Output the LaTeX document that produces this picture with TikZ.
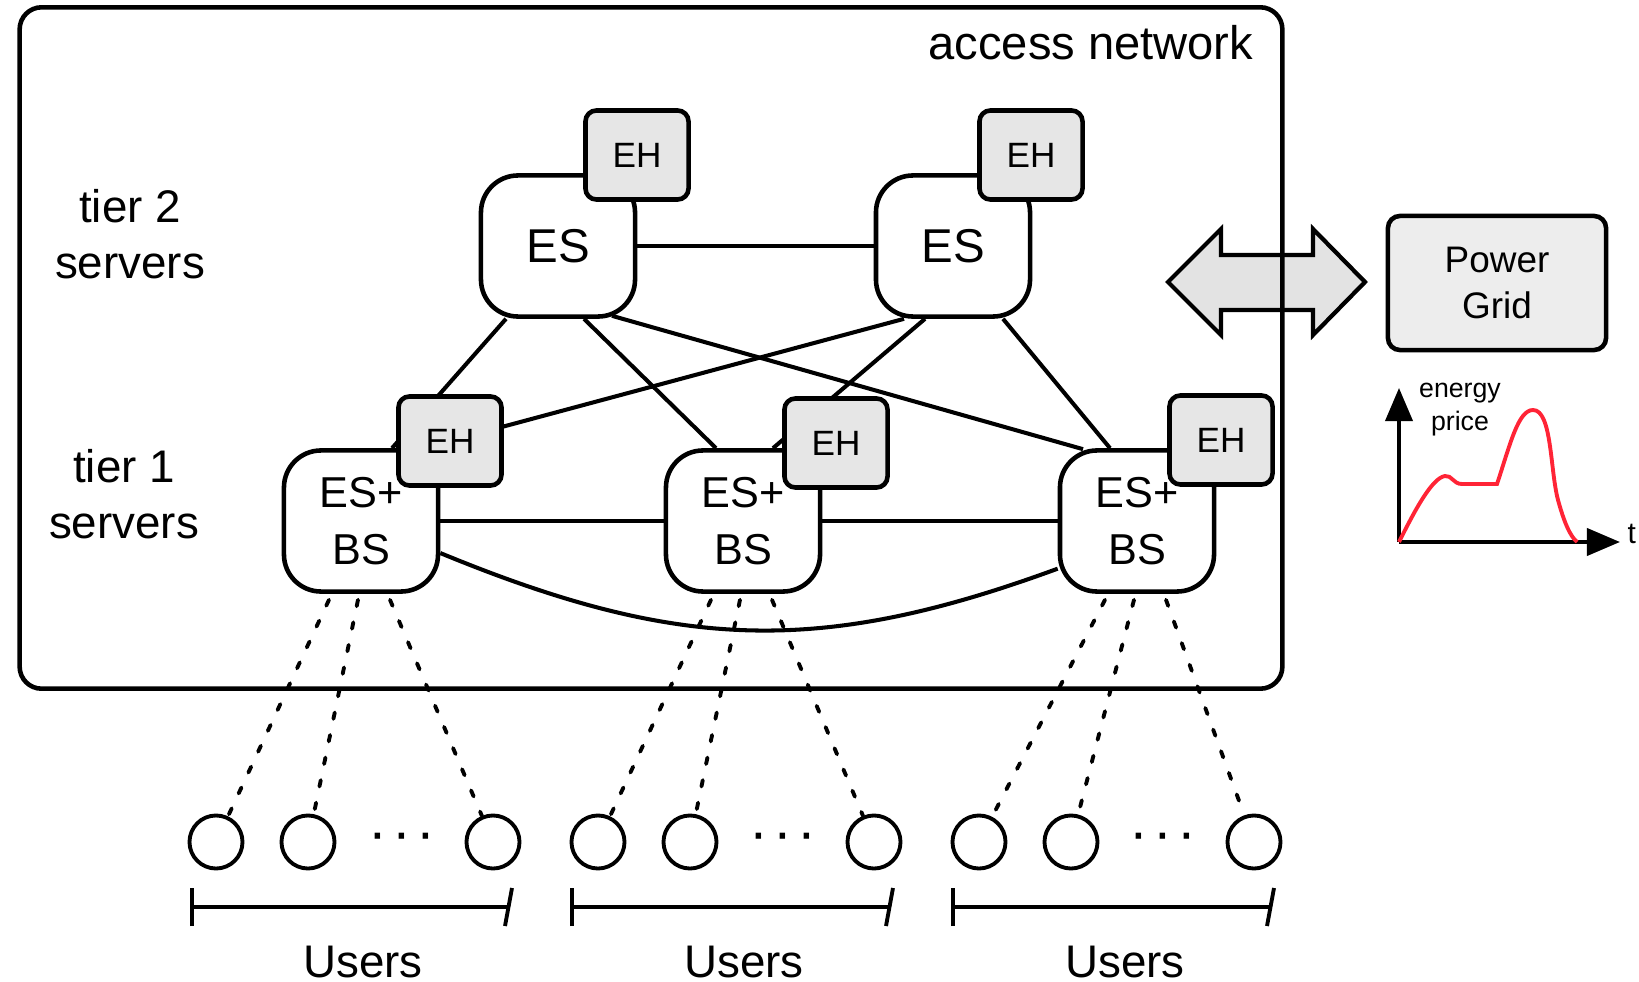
\documentclass[tikz,border=0pt]{standalone}
\usepackage{fontspec}
\setmainfont{Liberation Sans}
\usetikzlibrary{positioning, calc, arrows.meta}

\definecolor{ehgray}{HTML}{E6E6E6}
\definecolor{gridgray}{HTML}{EDEDED}
\definecolor{arrowgray}{HTML}{E3E3E3}
\definecolor{pricered}{HTML}{FF2436}

\begin{document}
\begin{tikzpicture}[
    x=0.01cm, y=-0.01cm,
    server/.style={rectangle, draw, line width=1.3pt, fill=white, rounded corners=0.37cm, minimum width=1.54cm, minimum height=1.41cm, align=center, inner sep=0pt, font=\fontsize{12.3}{16.2}\selectfont},
    harvester/.style={rectangle, draw, line width=1.3pt, fill=ehgray, rounded corners=0.11cm, minimum width=1.03cm, minimum height=0.89cm, font=\fontsize{10}{12}\selectfont},
    link/.style={line width=1.15pt},
    radio/.style={line width=1.1pt, line cap=round, dash pattern=on 0.65mm off 1.65mm},
    user/.style={circle, draw, line width=1.1pt, minimum size=0.53cm, inner sep=0pt},
    userspan/.style={line width=1.1pt, {Bar[width=3.8mm]}-},
    spanend/.style={line width=1.1pt},
    dotstext/.style={font=\fontsize{16}{18}\selectfont},
    priceaxis/.style={->, >={Triangle[length=3.3mm, width=2.7mm]}, line width=1.1pt},
    tiertext/.style={font=\fontsize{13}{15.9}\selectfont, align=center}
]
\useasboundingbox (0,0) rectangle (1639,982);

% Link to the grid
\draw[line width=1.2pt, fill=arrowgray, line join=miter] (1168,282) -- (1221,229) -- (1221,255) -- (1313,255) -- (1313,229) -- (1365,282) -- (1313,335) -- (1313,310) -- (1221,310) -- (1221,335) -- cycle;

% Access network
\node[draw, line width=1.3pt, rounded corners=0.22cm, minimum width=12.62cm, minimum height=6.81cm] (access) at (651,348) {};
\node[font=\fontsize{13.4}{16}\selectfont, anchor=base east, inner sep=0pt] (accesstext) at (1254,60) {access network};

% Tier labels
\node[tiertext] (tier2) at (130,234) {tier 2\\servers};
\node[tiertext] (tier1) at (124,494) {tier 1\\servers};

% Tier 2 servers
\node[server, font=\fontsize{13.5}{16}\selectfont] (esL) at (558,246) {ES};
\node[server, font=\fontsize{13.5}{16}\selectfont] (esR) at (953,246) {ES};

% Tier 1 servers
\node[server] (bsL) at (361,521) {ES+\\BS};
\node[server] (bsM) at (743,521) {ES+\\BS};
\node[server] (bsR) at (1137,521) {ES+\\BS};

% Links
\draw[link] (esL) -- (esR);
\draw[link] ($(esL.south)+(-52,0)$) -- ($(bsL.north)+(31,0)$);
\draw[link] ($(esL.south)+(26,0)$) -- ($(bsM.north)+(-27,0)$);
\draw[link] ($(esL.south)+(54,-3)$) -- ($(bsR.north)+(-54,1)$);
\draw[link] ($(esR.south)+(-49,0)$) -- ($(bsL.north)+(62,0)$);
\draw[link] ($(esR.south)+(-28,0)$) -- ($(bsM.north)+(30,0)$);
\draw[link] ($(esR.south)+(50,0)$) -- ($(bsR.north)+(-27,0)$);
\draw[link] (bsL) -- (bsM);
\draw[link] (bsM) -- (bsR);
\draw[link] (bsL.-22) .. controls (678,651) and (820,656) .. (bsR.211);

% Energy harvesters
\node[harvester] (ehT1) at (637,155) {EH};
\node[harvester] (ehT2) at (1031,155) {EH};
\node[harvester] (ehL) at (450,441) {EH};
\node[harvester] (ehM) at (836,443) {EH};
\node[harvester] (ehR) at (1221,440) {EH};

% Users
\node[user] (u1a) at (216,842) {};
\node[user] (u1b) at (308,842) {};
\node[dotstext] (dots1) at (402,842) {·\kern1.5pt·\kern1.5pt·};
\node[user] (u1c) at (493,842) {};
\node[user] (u2a) at (598,842) {};
\node[user] (u2b) at (690,842) {};
\node[dotstext] (dots2) at (783,842) {·\kern1.5pt·\kern1.5pt·};
\node[user] (u2c) at (874,842) {};
\node[user] (u3a) at (979,842) {};
\node[user] (u3b) at (1071,842) {};
\node[dotstext] (dots3) at (1163,842) {·\kern1.5pt·\kern1.5pt·};
\node[user] (u3c) at (1254,842) {};

% Radio links
\draw[radio] ($(bsL.south)+(-32,6)$) -- (u1a);
\draw[radio] ($(bsL.south)+(-3,6)$) -- (u1b);
\draw[radio] ($(bsL.south)+(29,6)$) -- (u1c);
\draw[radio] ($(bsM.south)+(-32,6)$) -- (u2a);
\draw[radio] ($(bsM.south)+(-3,6)$) -- (u2b);
\draw[radio] ($(bsM.south)+(29,6)$) -- (u2c);
\draw[radio] ($(bsR.south)+(-32,6)$) -- (u3a);
\draw[radio] ($(bsR.south)+(-3,6)$) -- (u3b);
\draw[radio] ($(bsR.south)+(29,6)$) -- (u3c);

% User groups
\coordinate (s1l) at (190,907);
\coordinate (s1r) at (508,907);
\coordinate (s2l) at (570,907);
\coordinate (s2r) at (889,907);
\coordinate (s3l) at (951,907);
\coordinate (s3r) at (1270,907);
\draw[userspan] (s1l) -- (s1r);
\draw[userspan] (s2l) -- (s2r);
\draw[userspan] (s3l) -- (s3r);
\draw[spanend] ($(s1r)+(4,-19)$) -- ($(s1r)+(-3,19)$);
\draw[spanend] ($(s2r)+(4,-19)$) -- ($(s2r)+(-3,19)$);
\draw[spanend] ($(s3r)+(4,-19)$) -- ($(s3r)+(-3,19)$);
\node[tiertext, anchor=base] (users1) at (363,977) {Users};
\node[tiertext, anchor=base] (users2) at (744,977) {Users};
\node[tiertext, anchor=base] (users3) at (1125,977) {Users};

% Power grid
\node[rectangle, draw, line width=1.3pt, fill=gridgray, rounded corners=0.12cm, minimum width=2.18cm, minimum height=1.34cm, align=center, font=\fontsize{10.5}{13}\selectfont] (grid) at (1497,283) {Power\\Grid};

% Energy price
\coordinate (origin) at (1399,542);
\coordinate (ytop) at (1399,388);
\coordinate (xend) at (1620,542);
\draw[priceaxis] (origin) -- (ytop);
\draw[priceaxis] (origin) -- (xend);
\node[font=\fontsize{7.6}{9.4}\selectfont, align=center] (price) at (1460,410) {energy\\price};
\node[font=\fontsize{8.5}{10}\selectfont, anchor=base west, inner sep=0pt] (time) at (1627,543) {t};
\draw[line width=1.1pt, pricered] (origin) .. controls (1415,510) and (1432,478) .. (1445,476) .. controls (1452,475) and (1453,484) .. (1462,484) -- (1497,484) .. controls (1510,445) and (1518,410) .. (1533,410) .. controls (1552,410) and (1550,470) .. (1558,500) .. controls (1564,522) and (1570,536) .. (1577,542);

\end{tikzpicture}
\end{document}
